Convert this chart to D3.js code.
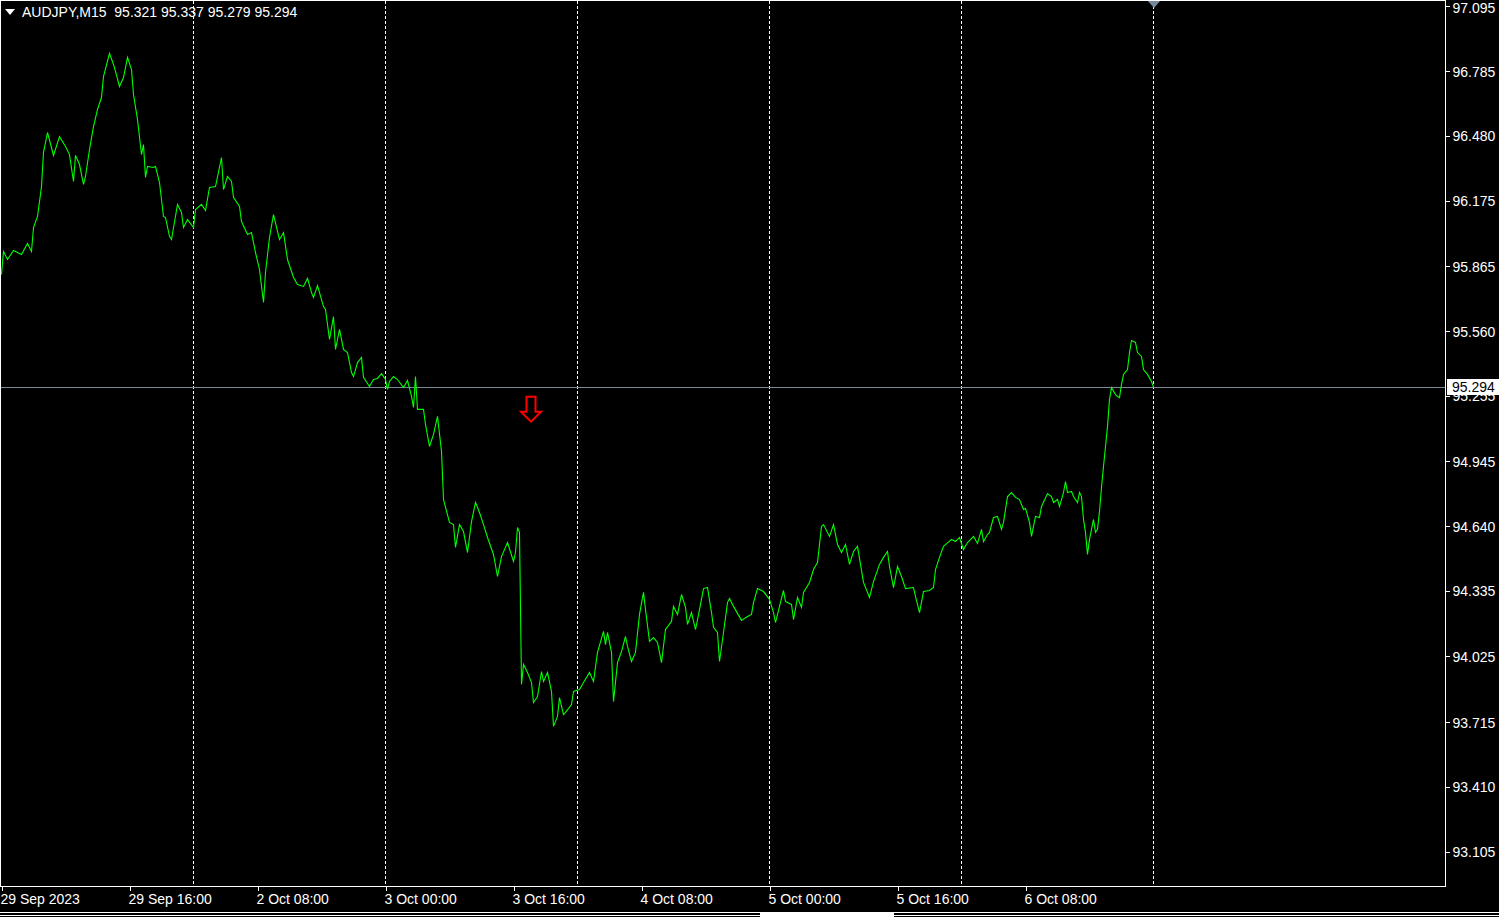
<!DOCTYPE html>
<html>
<head>
<meta charset="utf-8">
<script src="https://cdn.jsdelivr.net/npm/d3@7"></script>
<style>
  html, body { margin: 0; padding: 0; background: #000; overflow: hidden; }
  svg { display: block; }
  text { font-family: "Liberation Sans", Arial, sans-serif; }
</style>
</head>
<body>
<svg id="chart" width="1499" height="917"></svg>
<script>
// ---------------- DATA ----------------
const symbolTitle = "AUDJPY,M15  95.321 95.337 95.279 95.294";
const lastPrice = 95.294;

// bar index = number of M15 bars since 29 Sep 2023 00:00 (trading time)
const barIndex = [
  0,1,3,6,10,13,15,16,18,20,21,23,26,29,32,34,36,37,39,41,42,44,46,48,50,51,54,56,57,59,61,63,65,66,68,70,71,72,73,76,77,79,81,82,84,85,88,90,91,93,96,97,100,102,104,107,110,111,113,115,116,119,120,123,125,127,129,131,132,134,136,139,141,143,146,148,151,153,155,156,158,159,161,162,164,166,167,169,171,173,175,176,178,180,181,184,186,188,190,192,193,194,196,198,201,203,205,206,207,208,211,212,214,216,218,220,221,224,226,227,229,231,233,235,237,239,241,243,246,248,250,253,256,257,258,259,260,261,263,265,266,268,270,271,273,275,276,278,279,281,282,285,286,289,291,294,296,298,301,302,303,305,306,308,310,312,313,315,317,319,321,322,324,326,328,330,332,335,336,338,340,342,343,345,347,349,351,353,355,356,358,359,361,363,364,366,370,373,375,376,378,381,384,386,387,389,391,392,395,396,398,400,401,404,406,408,410,411,414,416,418,420,422,424,426,428,431,434,436,439,441,443,444,446,448,450,452,456,457,459,461,464,466,467,469,471,475,477,479,481,483,486,488,490,491,493,494,496,498,500,501,503,505,507,509,511,512,514,515,517,519,520,523,525,526,528,529,531,532,533,535,536,538,539,540,541,542,543,544,546,547,548,549,550,551,552,553,554,555,557,558,559,560,561,563,564,565,567,568,570,571,573,575,576
];
const closePrice = [
  95.826,95.935,95.897,95.940,95.921,95.973,95.935,96.048,96.100,96.241,96.402,96.496,96.388,96.477,96.430,96.392,96.265,96.388,96.345,96.251,96.289,96.416,96.524,96.605,96.661,96.760,96.869,96.817,96.784,96.713,96.755,96.850,96.793,96.675,96.557,96.392,96.439,96.284,96.336,96.331,96.336,96.260,96.100,96.095,96.006,95.991,96.157,96.119,96.048,96.086,96.048,96.133,96.157,96.128,96.237,96.241,96.378,96.227,96.289,96.265,96.190,96.147,96.076,96.015,96.024,95.930,95.850,95.694,95.836,96.001,96.109,95.991,96.024,95.897,95.812,95.779,95.770,95.808,95.741,95.718,95.774,95.741,95.675,95.661,95.520,95.628,95.473,95.567,95.473,95.458,95.364,95.345,95.411,95.435,95.341,95.298,95.331,95.336,95.359,95.331,95.284,95.322,95.345,95.331,95.293,95.326,95.251,95.199,95.345,95.190,95.190,95.119,95.015,95.072,95.157,94.992,94.765,94.657,94.647,94.539,94.647,94.614,94.515,94.661,94.751,94.704,94.647,94.586,94.506,94.402,94.496,94.562,94.473,94.515,94.633,94.610,93.893,93.987,93.949,93.902,93.808,93.836,93.954,93.907,93.949,93.860,93.695,93.742,93.831,93.751,93.761,93.798,93.860,93.869,93.902,93.949,93.907,94.044,94.143,94.081,94.138,94.044,93.812,93.996,94.048,94.119,94.072,94.001,94.044,94.223,94.327,94.246,94.096,94.114,94.091,93.996,94.152,94.190,94.261,94.223,94.317,94.256,94.176,94.232,94.152,94.246,94.345,94.350,94.232,94.162,94.138,94.001,94.138,94.279,94.298,94.261,94.195,94.213,94.223,94.279,94.345,94.331,94.294,94.232,94.185,94.261,94.336,94.284,94.270,94.199,94.303,94.256,94.327,94.374,94.435,94.468,94.638,94.647,94.591,94.647,94.553,94.515,94.553,94.459,94.520,94.544,94.374,94.303,94.378,94.459,94.492,94.520,94.449,94.350,94.449,94.402,94.345,94.350,94.308,94.232,94.331,94.336,94.350,94.435,94.492,94.544,94.577,94.567,94.586,94.529,94.562,94.591,94.558,94.624,94.567,94.600,94.610,94.680,94.685,94.624,94.657,94.779,94.798,94.775,94.765,94.718,94.723,94.657,94.591,94.685,94.680,94.732,94.793,94.779,94.751,94.765,94.732,94.798,94.850,94.798,94.803,94.779,94.751,94.798,94.779,94.671,94.610,94.506,94.577,94.671,94.610,94.624,94.709,94.822,94.921,95.015,95.110,95.237,95.293,95.260,95.251,95.246,95.308,95.355,95.378,95.458,95.515,95.506,95.458,95.440,95.378,95.355,95.322,95.294
];

const priceTickLabels = ["97.095","96.785","96.480","96.175","95.865","95.560","95.255","94.945","94.640","94.335","94.025","93.715","93.410","93.105"];
const timeTickBars = [0,64,128,192,256,320,384,448,512];
const timeTickLabels = ["29 Sep 2023","29 Sep 16:00","2 Oct 08:00","3 Oct 00:00","3 Oct 16:00","4 Oct 08:00","5 Oct 00:00","5 Oct 16:00","6 Oct 08:00"];
const gridBars = [96,192,288,384,480,576];
const sellArrowBar = 265;
const sellArrowPrice = 95.255;
const shiftBar = 576;

// ---------------- CHART ----------------
const W = 1499, H = 917;
const plotRight = 1445, plotBottom = 886;
const svg = d3.select("#chart");
svg.append("rect").attr("width", W).attr("height", H).attr("fill", "#000");

const x = d3.scaleLinear().domain([0, 576]).range([1, 1153]);
const y = d3.scaleLinear().domain([93.105, 97.095]).range([851.5, 5.5]);

const data = barIndex.map((b, k) => ({ b, p: closePrice[k] }));

// vertical dashed grid
svg.append("g").selectAll("line").data(gridBars).join("line")
  .attr("x1", d => Math.round(x(d)) + 0.5).attr("x2", d => Math.round(x(d)) + 0.5)
  .attr("y1", 1).attr("y2", plotBottom)
  .attr("stroke", "#fff").attr("stroke-width", 1)
  .attr("stroke-dasharray", "3,2")
  .attr("shape-rendering", "crispEdges");

// current price line
const yLast = Math.round(y(lastPrice)) + 0.5;
svg.append("line")
  .attr("x1", 1).attr("x2", plotRight).attr("y1", yLast).attr("y2", yLast)
  .attr("stroke", "#778899").attr("stroke-width", 1)
  .attr("shape-rendering", "crispEdges");

// price line
const line = d3.line().x(d => x(d.b) + 0.5).y(d => y(d.p));
svg.append("path").datum(data)
  .attr("d", line)
  .attr("fill", "none")
  .attr("stroke", "#00ff00")
  .attr("stroke-width", 1.1)
  .attr("stroke-linejoin", "miter");

// sell arrow (outlined down arrow)
const ax = x(sellArrowBar), ay = y(sellArrowPrice);
svg.append("path")
  .attr("d", `M${ax-4.5},${ay+1} L${ax+4.5},${ay+1} L${ax+4.5},${ay+16} L${ax+10},${ay+16} L${ax},${ay+26} L${ax-10},${ay+16} L${ax-4.5},${ay+16} Z`)
  .attr("fill", "none").attr("stroke", "#ff0000").attr("stroke-width", 2);

// shift marker triangle at top
const sx = x(shiftBar) + 1;
svg.append("path")
  .attr("d", `M${sx-7},0 L${sx+7},0 L${sx},8 Z`)
  .attr("fill", "#778899");

// plot border
svg.append("rect")
  .attr("x", 0.5).attr("y", 0.5).attr("width", plotRight).attr("height", plotBottom)
  .attr("fill", "none").attr("stroke", "#fff").attr("stroke-width", 1)
  .attr("shape-rendering", "crispEdges");

// right price axis
const yAxis = d3.axisRight(y)
  .tickValues(priceTickLabels.map(Number))
  .tickFormat((d, i) => priceTickLabels[i])
  .tickSize(4).tickPadding(3);
const gy = svg.append("g").attr("transform", `translate(${plotRight + 0.5},0)`).call(yAxis);
gy.select(".domain").remove();
gy.selectAll(".tick line").attr("stroke", "#fff").attr("shape-rendering", "crispEdges");
gy.selectAll(".tick text").attr("fill", "#fff").style("font-size", "14px")
  .style("font-family", '"Liberation Sans", Arial, sans-serif')
  .attr("dy", (d, i) => i === 0 ? "0.5em" : "0.36em");

// current price label box
svg.append("rect")
  .attr("x", plotRight + 2).attr("y", yLast - 8.5).attr("width", W - plotRight - 2).attr("height", 16)
  .attr("fill", "#fff");
svg.append("text")
  .attr("x", plotRight + 7).attr("y", yLast).attr("dy", "0.35em")
  .attr("fill", "#000").style("font-size", "14px")
  .text(lastPrice.toFixed(3));

// bottom time axis
const xAxis = d3.axisBottom(x)
  .tickValues(timeTickBars)
  .tickFormat((d, i) => timeTickLabels[i])
  .tickSize(4).tickPadding(4);
const gx = svg.append("g").attr("transform", `translate(0.5,${plotBottom + 0.5})`).call(xAxis);
gx.select(".domain").remove();
gx.selectAll(".tick line").attr("stroke", "#fff").attr("shape-rendering", "crispEdges");
gx.selectAll(".tick text").attr("fill", "#fff").attr("text-anchor", "start").attr("x", -1.5)
  .style("font-size", "14px").style("font-family", '"Liberation Sans", Arial, sans-serif');

// header
svg.append("path").attr("d", "M5,9 L15,9 L10,15 Z").attr("fill", "#fff");
svg.append("text").attr("x", 22).attr("y", 17)
  .attr("fill", "#fff").style("font-size", "14px")
  .attr("xml:space", "preserve").style("white-space", "pre")
  .text(symbolTitle);

// bottom tab strip
const strip = svg.append("g").attr("shape-rendering", "crispEdges");
strip.append("rect").attr("x", 0).attr("y", 912).attr("width", W).attr("height", 1).attr("fill", "#fff");
strip.append("rect").attr("x", 760).attr("y", 912).attr("width", 134).attr("height", 5).attr("fill", "#fff");
strip.append("rect").attr("x", 0).attr("y", 915).attr("width", 760).attr("height", 1).attr("fill", "#fff");
strip.append("rect").attr("x", 894).attr("y", 915).attr("width", W - 894).attr("height", 1).attr("fill", "#fff");
</script>
</body>
</html>
